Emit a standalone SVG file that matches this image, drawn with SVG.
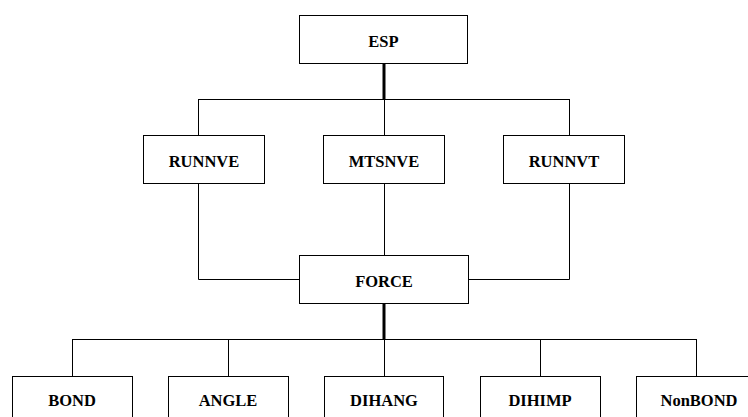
<svg xmlns="http://www.w3.org/2000/svg" width="748" height="417" viewBox="0 0 748 417">
<style>
.box{fill:#fff;stroke:#000;stroke-width:1}
.lbl{font-family:"Liberation Serif","Times New Roman",serif;font-weight:bold;font-size:16.5px;text-anchor:middle;fill:#000}
.ln{fill:none;stroke:#000;stroke-width:1}
.thick{fill:none;stroke:#000;stroke-width:3}
</style>
<rect width="748" height="417" fill="#fff"/>
<g id="connectors">
<line class="thick" x1="384" y1="63" x2="384" y2="99"/>
<line class="ln" x1="198" y1="99.5" x2="570" y2="99.5"/>
<line class="ln" x1="198.5" y1="99" x2="198.5" y2="135"/>
<line class="ln" x1="384.5" y1="99" x2="384.5" y2="135"/>
<line class="ln" x1="569.5" y1="99" x2="569.5" y2="135"/>
<polyline class="ln" points="198.5,183 198.5,279.5 299,279.5"/>
<polyline class="ln" points="569.5,183 569.5,279.5 468,279.5"/>
<line class="ln" x1="384.5" y1="183" x2="384.5" y2="255"/>
<line class="thick" x1="384" y1="303" x2="384" y2="339"/>
<line class="ln" x1="72" y1="339.5" x2="697" y2="339.5"/>
<line class="ln" x1="72.5" y1="339" x2="72.5" y2="376"/>
<line class="ln" x1="228.5" y1="339" x2="228.5" y2="376"/>
<line class="ln" x1="384.5" y1="339" x2="384.5" y2="376"/>
<line class="ln" x1="540.5" y1="339" x2="540.5" y2="376"/>
<line class="ln" x1="696.5" y1="339" x2="696.5" y2="376"/>
</g>
<g id="ESP"><rect class="box" x="299.5" y="15.5" width="168" height="48"/><text class="lbl" x="383.5" y="47">ESP</text></g>
<g id="RUNNVE"><rect class="box" x="143.5" y="135.5" width="121" height="48"/><text class="lbl" x="204" y="167">RUNNVE</text></g>
<g id="MTSNVE"><rect class="box" x="323.5" y="135.5" width="121" height="48"/><text class="lbl" x="384" y="167">MTSNVE</text></g>
<g id="RUNNVT"><rect class="box" x="503.5" y="135.5" width="121" height="48"/><text class="lbl" x="564" y="167">RUNNVT</text></g>
<g id="FORCE"><rect class="box" x="299.5" y="255.5" width="169" height="48"/><text class="lbl" x="384" y="287">FORCE</text></g>
<g id="BOND"><rect class="box" x="12.5" y="376.5" width="120" height="48"/><text class="lbl" x="72" y="406">BOND</text></g>
<g id="ANGLE"><rect class="box" x="168.5" y="376.5" width="120" height="48"/><text class="lbl" x="228" y="406">ANGLE</text></g>
<g id="DIHANG"><rect class="box" x="324.5" y="376.5" width="119" height="48"/><text class="lbl" x="384" y="406">DIHANG</text></g>
<g id="DIHIMP"><rect class="box" x="480.5" y="376.5" width="120" height="48"/><text class="lbl" x="540" y="406">DIHIMP</text></g>
<g id="NonBOND"><rect class="box" x="636.5" y="376.5" width="120" height="48"/><text class="lbl" x="699" y="406">NonBOND</text></g>
</svg>
